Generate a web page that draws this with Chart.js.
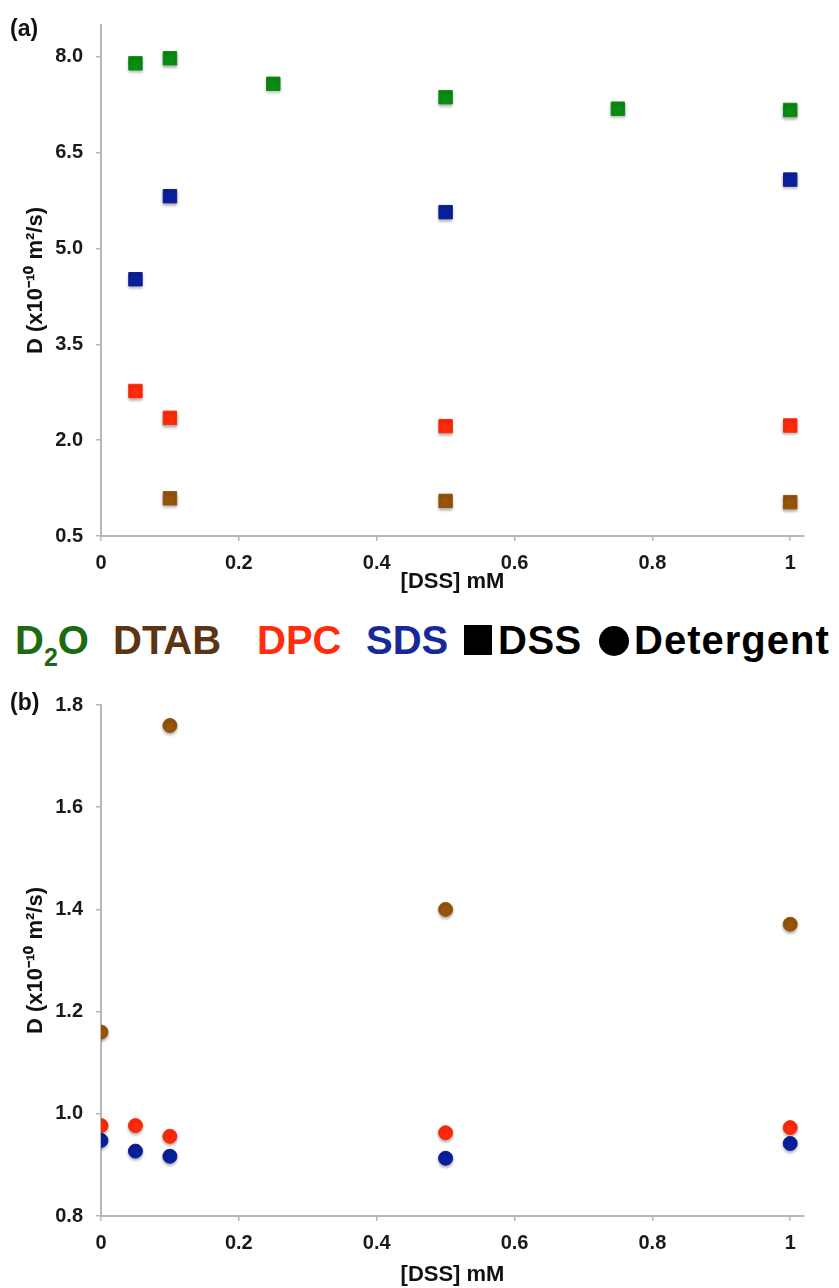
<!DOCTYPE html>
<html>
<head>
<meta charset="utf-8">
<script src="https://cdn.jsdelivr.net/npm/chart.js@4.4.1/dist/chart.umd.min.js"></script>
<style>
  body { margin: 0; background: #fff; font-family: "Liberation Sans", Arial, sans-serif; }
  #page { position: relative; width: 839px; height: 1288px; overflow: hidden; }
  canvas { position: absolute; left: 0; }
  #chartA { top: 0; }
  #chartB { top: 680px; }
  .panel { position: absolute; left: 10px; font-weight: bold; font-size: 23px; line-height: 1; color: #111; }
  .key { position: absolute; top: 620px; font-weight: bold; font-size: 40px; line-height: 1; white-space: nowrap; }
  .key sub { font-size: 25px; vertical-align: -12px; line-height: 0; }
  .sq { position: absolute; left: 464px; top: 625px; width: 28px; height: 30px; background: #000; }
  .dot { position: absolute; left: 599px; top: 626px; width: 30px; height: 30px; border-radius: 50%; background: #000; }
</style>
</head>
<body>
<div id="page">
  <canvas id="chartA" width="839" height="600"></canvas>
  <canvas id="chartB" width="839" height="608"></canvas>
  <div class="panel" style="top:17px">(a)</div>
  <div class="panel" style="top:691px">(b)</div>
  <span class="key" style="left:15px;color:#1c6a14">D<sub>2</sub>O</span>
  <span class="key" style="left:113px;color:#5b3513">DTAB</span>
  <span class="key" style="left:257px;color:#ff2d0d">DPC</span>
  <span class="key" style="left:366px;color:#17299a">SDS</span>
  <div class="sq"></div>
  <span class="key" style="left:498px;color:#000;letter-spacing:0.5px">DSS</span>
  <div class="dot"></div>
  <span class="key" style="left:634px;color:#000;letter-spacing:1px">Detergent</span>
</div>
<script>
// panel (a): DSS diffusion
const xA_D2O = [0.05, 0.1, 0.25, 0.5, 0.75, 1];
const yA_D2O = [7.90, 7.98, 7.58, 7.37, 7.19, 7.17];
const xA_SDS = [0.05, 0.1, 0.5, 1];
const yA_SDS = [4.52, 5.82, 5.57, 6.08];
const xA_DPC = [0.05, 0.1, 0.5, 1];
const yA_DPC = [2.77, 2.35, 2.22, 2.23];
const xA_DTAB = [0.1, 0.5, 1];
const yA_DTAB = [1.09, 1.05, 1.03];

// panel (b): detergent diffusion
const xB = [0, 0.05, 0.1, 0.5, 1];
const yB_DPC = [0.977, 0.977, 0.956, 0.963, 0.973];
const yB_SDS = [0.948, 0.927, 0.917, 0.913, 0.942];
const xB_DTAB = [0, 0.1, 0.5, 1];
const yB_DTAB = [1.16, 1.76, 1.40, 1.371];

const xTicks = [0, 0.2, 0.4, 0.6, 0.8, 1];
const yTicksA = [0.5, 2.0, 3.5, 5.0, 6.5, 8.0];
const yTicksB = [0.8, 1.0, 1.2, 1.4, 1.6, 1.8];

const GREEN = '#0b8c12', BLUE = '#0a1f9c', RED = '#ff2a0a', BROWN = '#96550a';
const AXIS = '#b8b8b8';
const FONT = '"Liberation Sans", Arial, sans-serif';

function pts(xs, ys) { return xs.map((x, i) => ({ x: x, y: ys[i] })); }

function series(xs, ys, color, shape, r) {
    return {
        data: pts(xs, ys),
        pointStyle: shape,
        pointRadius: r,
        pointHoverRadius: r,
        backgroundColor: color,
        borderColor: color,
        borderWidth: 1
    };
}

// soft drop shadow under the markers, like the original
const shadow = {
    id: 'shadow',
    beforeDatasetsDraw(chart) {
        const c = chart.ctx;
        c.save();
        c.shadowColor = 'rgba(0,0,0,0.3)';
        c.shadowBlur = 3;
        c.shadowOffsetY = 2;
    },
    afterDatasetsDraw(chart) { chart.ctx.restore(); }
};

function makeChart(id, datasets, yTicks, yMin, yMax, xBoxH, titlePad) {
    const canvas = document.getElementById(id);
    return new Chart(canvas, {
        type: 'scatter',
        data: { datasets: datasets },
        plugins: [shadow],
        options: {
            responsive: false,
            animation: false,
            layout: { padding: { top: 17, right: 35, left: 0, bottom: 0 } },
            plugins: { legend: { display: false }, tooltip: { enabled: false } },
            scales: {
                x: {
                    type: 'linear', min: 0, max: 1.02,
                    afterBuildTicks: s => { s.ticks = xTicks.map(v => ({ value: v })); },
                    afterFit: s => { s.height = xBoxH; },
                    border: { color: AXIS, width: 2 },
                    grid: { drawOnChartArea: false, color: AXIS, tickLength: 5, lineWidth: 1.5 },
                    ticks: {
                        padding: 10, color: '#1a1a1a', maxRotation: 0,
                        font: { family: FONT, size: 20, weight: 'bold' },
                        callback: v => String(v)
                    },
                    title: {
                        display: true, text: '[DSS] mM', color: '#111',
                        font: { family: FONT, size: 22, weight: 'bold' },
                        padding: { top: 0, bottom: titlePad }
                    }
                },
                y: {
                    type: 'linear', min: yMin, max: yMax,
                    afterBuildTicks: s => { s.ticks = yTicks.map(v => ({ value: v })); },
                    afterFit: s => { s.width = 101; },
                    border: { color: AXIS, width: 2 },
                    grid: { drawOnChartArea: false, color: AXIS, tickLength: 5, lineWidth: 1.5 },
                    ticks: {
                        padding: 13, color: '#1a1a1a',
                        font: { family: FONT, size: 20, weight: 'bold' },
                        callback: v => Number(v).toFixed(1)
                    },
                    title: {
                        display: true, text: 'D (x10\u207B\u00B9\u2070 m\u00B2/s)', color: '#111',
                        font: { family: FONT, size: 22, weight: 'bold' },
                        padding: { top: 23, bottom: 0 }
                    }
                }
            }
        }
    });
}

makeChart('chartA', [
    series(xA_D2O, yA_D2O, GREEN, 'rect', 9.5),
    series(xA_SDS, yA_SDS, BLUE, 'rect', 9.5),
    series(xA_DPC, yA_DPC, RED, 'rect', 9.5),
    series(xA_DTAB, yA_DTAB, BROWN, 'rect', 9.5)
], yTicksA, 0.5, 8.5, 64, 5);

makeChart('chartB', [
    series(xB, yB_SDS, BLUE, 'circle', 7),
    series(xB, yB_DPC, RED, 'circle', 7),
    series(xB_DTAB, yB_DTAB, BROWN, 'circle', 7)
], yTicksB, 0.8, 1.8, 72, 0);
</script>
</body>
</html>
